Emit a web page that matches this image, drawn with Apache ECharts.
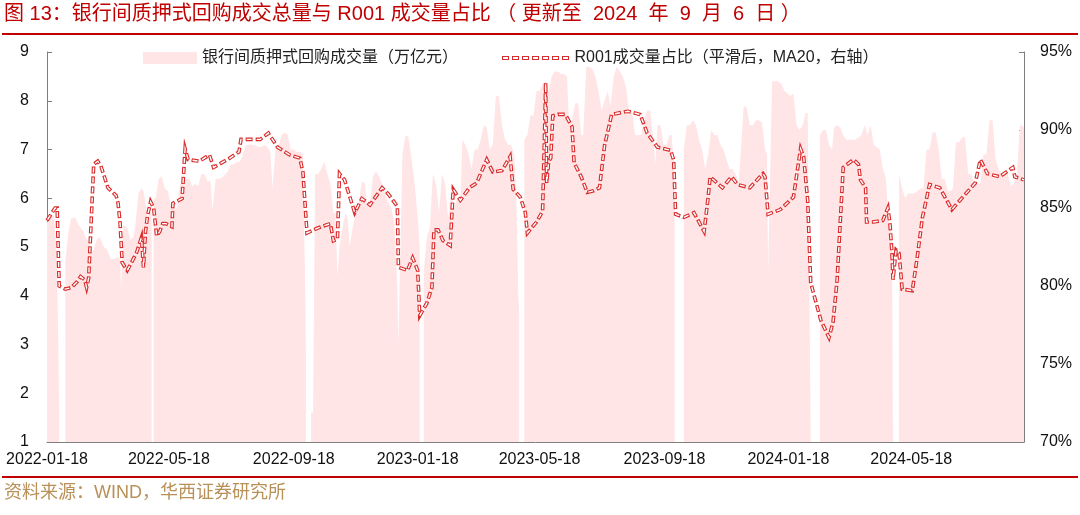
<!DOCTYPE html>
<html><head><meta charset="utf-8">
<script src="https://cdn.jsdelivr.net/npm/echarts@6/dist/echarts.min.js"></script>
<style>html,body{margin:0;padding:0;background:#fff}#c{width:1080px;height:515px}</style>
</head><body><div id="c"></div>
<script>
// ---------- data ----------
const titleText = '图 13：银行间质押式回购成交总量与 R001 成交量占比 （ 更新至  2024  年  9  月  6  日 ）';
const sourceText = '资料来源：WIND，华西证券研究所';
const areaName = '银行间质押式回购成交量（万亿元）';
const ratioName = 'R001成交量占比（平滑后，MA20，右轴）';
const xLabelDates = ['2022-01-18','2022-05-18','2022-09-18','2023-01-18','2023-05-18','2023-09-18','2024-01-18','2024-05-18'];
const xMin = '2022-01-18', xMax = '2024-09-06';
const leftMin = 1, leftMax = 9, leftStep = 1;
const rightMin = 70, rightMax = 95, rightStep = 5;

const areaDates = [
'2022-01-18','2022-01-21','2022-01-25','2022-01-27','2022-01-28','2022-01-29','2022-01-30','2022-02-02',
'2022-02-05','2022-02-08','2022-02-11','2022-02-15','2022-02-18','2022-02-22','2022-02-25',
'2022-03-01','2022-03-04','2022-03-08','2022-03-11','2022-03-15','2022-03-18','2022-03-22','2022-03-25','2022-03-29','2022-03-31',
'2022-04-01','2022-04-03','2022-04-07','2022-04-10','2022-04-13','2022-04-15','2022-04-18','2022-04-21','2022-04-23','2022-04-25','2022-04-27','2022-04-29',
'2022-05-01','2022-05-02','2022-05-03','2022-05-05','2022-05-08','2022-05-11','2022-05-14','2022-05-17','2022-05-20','2022-05-23','2022-05-26','2022-05-29',
'2022-06-01','2022-06-04','2022-06-07','2022-06-10','2022-06-13','2022-06-16','2022-06-19','2022-06-22','2022-06-25','2022-06-28','2022-06-30',
'2022-07-01','2022-07-03','2022-07-07','2022-07-11','2022-07-15','2022-07-18','2022-07-21','2022-07-24','2022-07-27','2022-07-30',
'2022-08-02','2022-08-06','2022-08-10','2022-08-14','2022-08-17','2022-08-20','2022-08-23','2022-08-26','2022-08-28','2022-08-29','2022-08-31',
'2022-09-03','2022-09-06','2022-09-09','2022-09-12','2022-09-15','2022-09-18','2022-09-21','2022-09-24','2022-09-27','2022-09-28','2022-09-29','2022-09-30',
'2022-10-02','2022-10-05','2022-10-07','2022-10-09','2022-10-12','2022-10-15','2022-10-18','2022-10-21','2022-10-24','2022-10-27','2022-10-29','2022-10-31',
'2022-11-02','2022-11-05','2022-11-08','2022-11-10','2022-11-12','2022-11-15','2022-11-18','2022-11-21','2022-11-24','2022-11-27','2022-11-29',
'2022-12-02','2022-12-05','2022-12-08','2022-12-11','2022-12-14','2022-12-17','2022-12-20','2022-12-23','2022-12-26','2022-12-29','2022-12-30',
'2023-01-03','2023-01-06','2023-01-09','2023-01-12','2023-01-15','2023-01-18','2023-01-20','2023-01-22','2023-01-24','2023-01-27','2023-01-30',
'2023-02-02','2023-02-05','2023-02-08','2023-02-11','2023-02-14','2023-02-17','2023-02-20','2023-02-23','2023-02-26',
'2023-03-01','2023-03-03','2023-03-06','2023-03-09','2023-03-12','2023-03-15','2023-03-18','2023-03-21','2023-03-24','2023-03-27','2023-03-30',
'2023-04-02','2023-04-05','2023-04-08','2023-04-11','2023-04-14','2023-04-17','2023-04-20','2023-04-23','2023-04-25','2023-04-27','2023-04-28','2023-04-30',
'2023-05-03','2023-05-06','2023-05-09','2023-05-12','2023-05-15','2023-05-18','2023-05-21','2023-05-24','2023-05-27','2023-05-30',
'2023-06-02','2023-06-05','2023-06-08','2023-06-11','2023-06-14','2023-06-16','2023-06-19','2023-06-22','2023-06-25','2023-06-28','2023-06-30',
'2023-07-03','2023-07-06','2023-07-09','2023-07-12','2023-07-15','2023-07-18','2023-07-21','2023-07-24','2023-07-27','2023-07-30',
'2023-08-02','2023-08-05','2023-08-08','2023-08-11','2023-08-14','2023-08-17','2023-08-20','2023-08-23','2023-08-26','2023-08-29',
'2023-09-01','2023-09-04','2023-09-07','2023-09-09','2023-09-11','2023-09-14','2023-09-17','2023-09-20','2023-09-23','2023-09-25','2023-09-27','2023-09-28','2023-09-30',
'2023-10-07','2023-10-10','2023-10-13','2023-10-16','2023-10-19','2023-10-22','2023-10-25','2023-10-28','2023-10-31',
'2023-11-03','2023-11-06','2023-11-09','2023-11-12','2023-11-15','2023-11-18','2023-11-21','2023-11-24','2023-11-27','2023-11-30',
'2023-12-03','2023-12-05','2023-12-08','2023-12-11','2023-12-14','2023-12-17','2023-12-20','2023-12-23','2023-12-26','2023-12-28','2023-12-29',
'2024-01-02','2024-01-05','2024-01-08','2024-01-11','2024-01-14','2024-01-17','2024-01-20','2024-01-23','2024-01-26','2024-01-29',
'2024-02-01','2024-02-04','2024-02-06','2024-02-08','2024-02-09','2024-02-12','2024-02-18','2024-02-21','2024-02-24','2024-02-27',
'2024-03-01','2024-03-03','2024-03-06','2024-03-09','2024-03-12','2024-03-15','2024-03-18','2024-03-21','2024-03-24','2024-03-27','2024-03-30',
'2024-04-02','2024-04-05','2024-04-08','2024-04-11','2024-04-14','2024-04-17','2024-04-20','2024-04-23','2024-04-26','2024-04-29','2024-04-30','2024-05-02',
'2024-05-06','2024-05-09','2024-05-12','2024-05-15','2024-05-18','2024-05-21','2024-05-24','2024-05-27','2024-05-30',
'2024-06-02','2024-06-05','2024-06-08','2024-06-11','2024-06-14','2024-06-17','2024-06-20','2024-06-23','2024-06-26','2024-06-28',
'2024-07-01','2024-07-04','2024-07-07','2024-07-10','2024-07-13','2024-07-16','2024-07-19','2024-07-22','2024-07-25','2024-07-28','2024-07-31',
'2024-08-03','2024-08-06','2024-08-09','2024-08-12','2024-08-15','2024-08-18','2024-08-21','2024-08-24','2024-08-27','2024-08-30',
'2024-09-02','2024-09-04','2024-09-06'
];
const areaVolume = [
5.5,5.6,5.65,5.0,4.5,3.2,1.7,null,
4.7,5.3,5.6,5.6,5.45,5.35,5.2,
5.05,4.9,5.15,5.2,5.0,4.95,4.75,4.75,4.8,4.75,
4.1,5.45,5.4,5.15,5.2,5.45,6.1,6.2,6.15,5.9,5.6,5.7,
5.7,null,6.0,6.0,6.4,6.45,6.2,6.15,5.85,5.8,5.8,6.3,
6.3,6.4,6.4,6.25,6.3,6.25,6.5,6.5,6.35,6.35,5.75,
5.75,6.4,6.4,6.45,6.55,6.7,6.7,6.75,6.75,6.9,
7.1,7.1,7.1,7.05,7.05,7.1,7.05,6.95,6.2,6.2,7.0,
7.05,7.3,7.35,7.3,7.0,7.0,6.95,6.95,6.9,5.5,4.5,2.6,
null,1.6,1.6,6.5,6.5,6.6,6.75,6.5,6.3,5.7,5.7,4.4,
5.0,5.4,5.7,5.6,5.0,5.4,5.7,5.9,6.35,6.3,5.9,
5.9,6.45,6.55,6.45,6.3,6.1,5.9,5.8,5.5,4.15,3.0,
6.9,7.3,7.25,6.8,6.3,5.6,5.0,null,4.5,5.2,5.4,
6.5,6.3,5.7,6.5,6.3,5.6,6.1,5.8,6.0,
5.9,7.2,7.1,6.9,6.6,7.0,7.0,7.2,7.5,7.45,7.0,
7.1,8.1,8.1,7.5,7.2,7.1,7.1,6.9,6.2,4.0,3.6,null,
7.2,7.3,7.7,7.7,8.2,8.2,8.35,8.4,8.2,8.5,
8.6,8.6,8.55,8.55,8.5,7.55,7.6,7.95,7.95,7.3,7.3,
8.7,8.7,8.65,8.5,8.2,7.8,8.0,8.2,7.9,8.5,
8.7,8.6,8.5,8.3,7.8,7.8,7.3,7.3,7.3,7.6,
7.8,7.8,7.2,6.7,7.5,7.5,7.1,7.1,7.3,7.3,6.8,6.5,null,
7.0,7.5,7.5,7.6,7.5,7.2,7.0,6.6,6.9,
7.4,7.3,7.3,7.1,7.0,6.8,6.6,6.6,6.5,6.3,
7.2,7.9,7.85,7.5,7.5,7.6,7.6,7.55,7.0,6.9,4.5,
8.4,8.4,8.4,8.35,8.2,8.15,8.1,8.15,7.5,7.4,
7.5,7.75,7.75,3.4,3.4,null,7.3,7.4,7.4,7.1,
7.0,7.45,7.5,7.45,7.3,7.2,7.2,7.2,7.2,7.25,7.3,
7.5,7.3,7.5,7.1,7.05,7.0,6.6,6.4,5.4,5.3,5.3,null,
6.5,6.2,6.0,6.1,6.1,6.1,6.15,6.2,6.2,
7.0,7.0,7.35,7.35,7.0,6.4,6.4,6.15,6.15,6.2,
7.15,7.15,7.25,7.25,6.5,6.5,6.3,6.3,6.3,6.9,6.9,
7.6,7.6,6.8,6.6,6.5,6.5,6.5,6.25,6.3,6.5,
7.5,7.5,7.45
];

const ratioDates = [
'2022-01-18','2022-01-23','2022-01-26','2022-01-28','2022-01-30','2022-02-05','2022-02-11','2022-02-17','2022-02-20','2022-02-24','2022-02-26','2022-02-28',
'2022-03-05','2022-03-09','2022-03-12','2022-03-19','2022-03-27','2022-03-29','2022-03-31','2022-04-02','2022-04-07','2022-04-16','2022-04-21','2022-04-23','2022-04-25','2022-04-27','2022-04-30',
'2022-05-03','2022-05-06','2022-05-09','2022-05-12','2022-05-15','2022-05-18','2022-05-21','2022-05-22','2022-05-25','2022-05-28','2022-05-31',
'2022-06-03','2022-06-06','2022-06-17','2022-06-27','2022-07-01','2022-07-17','2022-07-26','2022-07-28','2022-08-16','2022-08-24','2022-09-02','2022-09-14','2022-09-24','2022-09-27',
'2022-10-01','2022-10-11','2022-10-24','2022-10-27','2022-10-31','2022-11-02','2022-11-07','2022-11-17','2022-11-24','2022-12-02','2022-12-14','2022-12-20','2022-12-29','2022-12-30',
'2023-01-08','2023-01-13','2023-01-18','2023-01-20','2023-01-27','2023-02-01','2023-02-03','2023-02-07','2023-02-12','2023-02-19','2023-02-22',
'2023-03-01','2023-03-10','2023-03-17','2023-03-27','2023-04-02','2023-04-11','2023-04-19','2023-04-22','2023-04-29',
'2023-05-04','2023-05-06','2023-05-15','2023-05-21','2023-05-23','2023-05-24','2023-05-25','2023-05-27','2023-05-29','2023-05-31',
'2023-06-05','2023-06-12','2023-06-14','2023-06-19','2023-06-21','2023-06-28','2023-07-04','2023-07-10','2023-07-16','2023-07-21','2023-07-28',
'2023-08-13','2023-08-25','2023-09-01','2023-09-11','2023-09-24','2023-09-27','2023-09-29',
'2023-10-07','2023-10-17','2023-10-27','2023-10-31','2023-11-02','2023-11-14','2023-11-23','2023-11-29','2023-12-11','2023-12-24','2023-12-26','2023-12-29',
'2024-01-10','2024-01-23','2024-01-30','2024-02-02','2024-02-06','2024-02-09','2024-02-19','2024-02-27','2024-03-02','2024-03-06','2024-03-12','2024-03-22','2024-03-27','2024-03-29',
'2024-04-03','2024-04-04','2024-04-10','2024-04-20','2024-04-25','2024-04-27','2024-04-29','2024-04-30','2024-05-03','2024-05-06','2024-05-09','2024-05-19','2024-05-24','2024-05-29',
'2024-06-05','2024-06-15','2024-06-27','2024-07-05','2024-07-20','2024-07-25','2024-08-01','2024-08-13','2024-08-26','2024-08-28','2024-09-06'
];
const ratioValues = [
84.2,84.7,85.0,85.0,80.0,79.8,79.9,80.3,80.6,80.4,79.9,80.5,
87.8,88.0,87.7,86.3,85.8,85.3,84.0,81.5,81.0,82.1,83.1,81.2,83.5,84.5,85.4,
85.0,83.2,83.5,84.0,84.0,83.9,83.8,85.3,85.4,85.5,85.6,
88.8,88.1,88.0,88.4,87.6,88.2,88.6,89.4,89.4,89.8,88.9,88.4,88.2,87.3,
83.4,83.7,84.0,82.9,83.0,87.2,86.8,84.7,85.6,85.2,86.3,85.9,85.1,81.2,
81.0,81.8,81.0,78.1,78.9,79.9,83.6,83.6,82.9,82.6,86.2,
85.5,86.3,86.6,88.1,87.3,87.4,88.3,86.2,85.7,
84.7,83.4,84.1,84.8,90.0,93.0,86.6,88.0,88.2,90.9,
91.0,91.0,90.8,90.2,87.9,87.0,86.0,86.1,86.3,89.0,91.0,
91.2,91.0,89.8,88.9,88.7,88.1,84.6,
84.4,84.7,83.5,85.7,87.0,86.3,87.0,86.5,86.3,87.2,87.0,84.6,
84.9,85.7,88.8,88.3,85.5,80.2,77.8,76.7,77.7,80.4,87.6,88.1,87.8,86.8,
86.3,84.1,84.1,84.2,85.0,84.0,82.1,80.4,82.3,82.1,79.8,79.7,81.9,84.4,
86.5,86.3,84.9,85.5,86.6,88.1,87.2,87.0,87.6,87.0,86.8
];

// ---------- helpers ----------
function ts(s){const p=s.split('-');return new Date(+p[0],+p[1]-1,+p[2]).getTime();}
function pad(n){return (n<10?'0':'')+n;}
function fmt(v){const d=new Date(v);return d.getFullYear()+'-'+pad(d.getMonth()+1)+'-'+pad(d.getDate());}

const areaData = areaDates.map((d,i)=>[ts(d), areaVolume[i]]);
const ratioData = ratioDates.map((d,i)=>[ts(d), ratioValues[i]]);
const tickVals = xLabelDates.map(ts);

// hollow dash legend icon
let iconPath = '';
for (let i = 0; i < 7; i++) { const x = i*10; iconPath += `M${x} 0h7v4h-7Z M${x+1} 1v2h5v-2Z `; }

const FONT = "'Liberation Sans','Noto Sans CJK SC',sans-serif";
const RED = '#D92B2B';
const PINK = '#FFE5E6';
const AXIS = '#7F7F7F';

const chart = echarts.init(document.getElementById('c'), null, {renderer:'canvas'});
chart.setOption({
  animation: false,
  backgroundColor: '#fff',
  textStyle: {fontFamily: FONT},
  title: [
    {text: titleText, left: 4, top: 4, padding: 0,
     textStyle: {fontSize: 20, fontWeight: 'normal', color: '#C00000', fontFamily: FONT}},
    {text: sourceText, left: 4, top: 484, padding: 0,
     textStyle: {fontSize: 18, fontWeight: 'normal', color: '#B89058', fontFamily: FONT}}
  ],
  graphic: [
    {type: 'rect', shape: {x: 2, y: 33, width: 1076, height: 2}, style: {fill: '#C00000'}, silent: true},
    {type: 'rect', shape: {x: 2, y: 476, width: 1076, height: 2}, style: {fill: '#C00000'}, silent: true}
  ],
  legend: [
    {data: [{name: areaName, icon: 'rect'}], left: 143, top: 50, padding: 0,
     itemWidth: 54, itemHeight: 12, itemStyle: {borderWidth: 0},
     textStyle: {fontSize: 16, color: '#222', fontFamily: FONT}},
    {data: [{name: ratioName, icon: 'path://' + iconPath}], left: 502, top: 50, padding: 0,
     itemWidth: 68, itemHeight: 4, itemStyle: {borderWidth: 0, color: RED},
     textStyle: {fontSize: 16, color: '#222', fontFamily: FONT}}
  ],
  grid: {left: 47, right: 56, top: 52, bottom: 73, containLabel: false},
  xAxis: {
    type: 'value', min: ts(xMin), max: ts(xMax), scale: true,
    axisLine: {show: true, lineStyle: {color: AXIS, width: 1}},
    axisTick: {show: true, inside: true, length: 5, lineStyle: {color: AXIS}, customValues: tickVals},
    axisLabel: {show: true, customValues: tickVals, formatter: fmt, fontSize: 16, color: '#111',
                margin: 10, hideOverlap: false, showMinLabel: true, fontFamily: FONT},
    splitLine: {show: false}
  },
  yAxis: [
    {type: 'value', min: leftMin, max: leftMax, interval: leftStep,
     axisLine: {show: true, lineStyle: {color: AXIS}},
     axisTick: {show: true, inside: true, length: 5, lineStyle: {color: AXIS}},
     axisLabel: {fontSize: 16, color: '#111', margin: 18, fontFamily: FONT},
     splitLine: {show: false}},
    {type: 'value', min: rightMin, max: rightMax, interval: rightStep, position: 'right',
     axisLine: {show: true, lineStyle: {color: AXIS}},
     axisTick: {show: true, inside: true, length: 5, lineStyle: {color: AXIS}},
     axisLabel: {fontSize: 16, color: '#111', margin: 16, formatter: '{value}%', fontFamily: FONT},
     splitLine: {show: false}}
  ],
  series: [
    {name: areaName, type: 'line', yAxisIndex: 0, data: areaData, symbol: 'none', showSymbol: false,
     connectNulls: false, color: PINK, itemStyle: {color: PINK},
     lineStyle: {width: 0, color: PINK}, areaStyle: {color: PINK, opacity: 1, origin: 'start'},
     silent: true, z: 1},
    {name: ratioName, type: 'line', yAxisIndex: 1, data: ratioData, symbol: 'none', showSymbol: false,
     color: RED, itemStyle: {color: RED},
     lineStyle: {width: 3.6, color: RED, type: [7, 3], cap: 'butt', join: 'miter'}, silent: true, z: 3},
    {name: '_inner', type: 'line', yAxisIndex: 1, data: ratioData, symbol: 'none', showSymbol: false,
     color: '#fff',
     lineStyle: {width: 1.4, color: '#ffffff', type: [5, 5], dashOffset: 9, cap: 'butt', join: 'miter'}, silent: true, z: 4}
  ]
});
</script>
</body></html>
